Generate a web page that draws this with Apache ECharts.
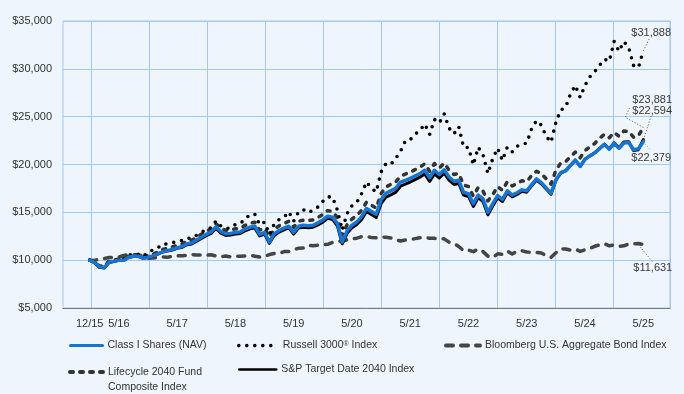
<!DOCTYPE html>
<html><head><meta charset="utf-8">
<script src="https://cdn.jsdelivr.net/npm/echarts@6/dist/echarts.min.js"></script>
<style>html,body{margin:0;padding:0;background:#eef5fc}#c{width:684px;height:394px}</style>
</head><body><div id="c"></div>
<script>
// ---------- DATA ----------
const NAME_CLASS = 'Class I Shares (NAV)';
const NAME_RUSSELL = 'Russell 3000® Index';
const NAME_BOND = 'Bloomberg U.S. Aggregate Bond Index';
const NAME_LIFE = 'Lifecycle 2040 Fund Composite Index';
const NAME_SP = 'S&P Target Date 2040 Index';

// inception point (12/15) followed by month-ends 12/15 ... 5/25
const startDate = '2015-12-01';
const tickLabels = ['12/15','5/16','5/17','5/18','5/19','5/20','5/21','5/22','5/23','5/24','5/25'];

const classI = [10000,9750,9300,9220,9800,9900,10000,9980,10300,10400,10420,10220,10300,10450,
  10650,10880,11000,11120,11300,11420,11700,11800,12100,12400,12700,12950,
  13480,13000,12750,12800,12900,12950,13250,13450,13550,12700,12900,11900,
  12750,13100,13350,13550,12900,13550,13650,13600,13650,13900,14200,14600,
  14500,13850,11900,13050,13650,14000,14550,15400,15100,14800,16300,17000,
  17250,17500,18150,18350,18550,18800,19050,19400,18600,19400,18950,19450,
  18700,18250,18350,17100,16950,15900,16800,16400,15000,15900,16750,16350,
  17250,16800,17050,17350,17250,17900,18500,18100,17550,17000,18400,19150,
  19350,19900,20450,19800,20550,20900,21200,21650,22100,21600,22200,21700,
  22250,22300,21550,21650,22379];

const russell = [10000,9800,9250,9240,9890,9950,10130,10150,10560,10590,10610,10380,10840,11050,
  11270,11680,11700,11820,11940,12050,12280,12300,12600,12880,13260,13390,
  14100,13580,13310,13360,13730,13830,14290,14780,14800,13710,13980,12680,
  13770,14250,14470,15050,14070,15050,15280,14970,15230,15560,16150,16620,
  16600,15240,13140,14870,15680,16040,16950,18170,17520,17130,19220,20090,
  20010,20630,21370,22480,22590,23160,23550,24230,23140,24710,24340,25290,
  23800,23200,23950,21790,21770,19940,21810,21000,19050,20610,21700,20420,
  21830,21330,21910,22130,22220,23730,24580,24110,22950,22330,24410,25700,
  25980,27380,28260,27010,28280,29160,29710,30370,31000,30790,32850,31830,
  32850,32220,30350,30140,31888];

const bond = [10000,9970,10110,10180,10270,10310,10310,10500,10560,10550,10540,10460,10210,10230,
  10250,10320,10310,10390,10470,10450,10490,10590,10530,10530,10520,10560,
  10440,10370,10430,10350,10420,10420,10430,10490,10420,10340,10400,10590,
  10700,10700,10900,10910,11100,11240,11260,11550,11500,11560,11600,11650,
  11850,12000,11950,12150,12230,12300,12450,12450,12380,12330,12420,12400,
  12320,12150,12000,12100,12150,12250,12350,12380,12300,12280,12250,12230,
  11890,11760,11430,10990,11060,10890,11160,10890,10420,10280,10660,10610,
  10940,10650,10920,10980,10860,10820,10820,10750,10470,10300,10770,11190,
  11160,11050,11150,10920,11080,11220,11450,11600,11720,11500,11600,11450,
  11500,11700,11720,11750,11631];

const lifecycle = [10000,9780,9400,9340,9900,10010,10110,10100,10430,10530,10560,10380,10470,10630,
  10860,11110,11230,11370,11560,11690,11970,12080,12390,12700,13010,13270,
  13800,13340,13110,13170,13280,13330,13640,13850,13960,13140,13340,12400,
  13230,13590,13850,14060,13450,14070,14180,14150,14210,14470,14780,15180,
  15080,14450,12600,13700,14300,14660,15230,16060,15750,15440,16950,17650,
  17920,18170,18780,19000,19200,19460,19720,20080,19300,20100,19640,20150,
  19400,18950,19050,17850,17700,16700,17600,17200,16200,16850,17700,17300,
  18200,17750,18000,18300,18200,18850,19300,19050,18500,17950,19400,20150,
  20300,20800,21300,20700,21450,21850,22200,22750,23150,22800,23350,22950,
  23500,23450,22850,23000,23881];

const spTarget = [10000,9740,9250,9180,9760,9870,9980,9960,10290,10380,10400,10190,10270,10420,
  10620,10840,10950,11060,11230,11340,11610,11700,11990,12280,12570,12800,
  13320,12820,12580,12630,12730,12780,13070,13270,13370,12530,12720,11760,
  12580,12930,13170,13370,12720,13360,13450,13400,13450,13690,13980,14370,
  14260,13600,11700,12800,13380,13720,14250,15080,14770,14450,15900,16580,
  16830,17090,17730,17960,18170,18420,18680,19010,18220,19020,18590,19100,
  18360,17910,18020,16800,16660,15620,16530,16120,14740,15650,16520,16130,
  17050,16620,16880,17190,17110,17760,18380,17990,17440,16900,18330,19110,
  19330,19900,20460,19800,20560,20910,21220,21680,22140,21650,22260,21760,
  22350,22370,21450,21550,22594];

// ---------- BUILD ----------
const dates = [startDate];
for (let k = 0; k < classI.length - 1; k++) {
  const y = 2015 + Math.floor((11 + k) / 12);
  const m = (11 + k) % 12 + 1;
  const last = new Date(Date.UTC(y, m, 0)).getUTCDate();
  dates.push(y + '-' + String(m).padStart(2, '0') + '-' + last);
}
const PAD = 5;
const padL = Array.from({length: PAD}, (_, i) => 'padL' + i);
const padR = Array.from({length: PAD}, (_, i) => 'padR' + i);
const cats = padL.concat(dates, padR);
const fmtDate = d => (d.indexOf('-') < 0) ? '' : (+d.slice(5, 7)) + '/' + d.slice(2, 4);
const showIdx = new Set(tickLabels.map(t => cats.findIndex(c => fmtDate(c) === t)));

const FONT = 'Arial, "Liberation Sans", sans-serif';
const GRID_COLOR = '#a6c7f0';
const BLUE = '#1774d1';

const pairs = vals => dates.map((d, k) => [d, vals[k]]);

const seriesDefs = [
  {name: NAME_BOND, vals: bond, color: '#454545', width: 3.5, type: [7, 8], z: 2},
  {name: NAME_LIFE, vals: lifecycle, color: '#333333', width: 3.5, type: [3, 7], z: 3},
  {name: NAME_RUSSELL, vals: russell, color: '#000000', width: 3.6, type: [0, 8], z: 4},
  {name: NAME_SP, vals: spTarget, color: '#000000', width: 3, type: 'solid', z: 5},
  {name: NAME_CLASS, vals: classI, color: BLUE, width: 3.5, type: 'solid', z: 6}
];

const series = seriesDefs.map(s => ({
  name: s.name, type: 'line', data: pairs(s.vals), symbol: 'none', showSymbol: false,
  silent: true, z: s.z, color: s.color,
  lineStyle: {color: s.color, width: s.width, type: s.type, cap: 'round', join: 'round'},
  itemStyle: {color: s.color},
  emphasis: {disabled: true}
}));

const legendBase = {
  orient: 'horizontal', padding: 0, itemHeight: 14, selectedMode: false,
  itemStyle: {opacity: 0},
  textStyle: {color: '#333', fontSize: 10.5, fontFamily: FONT,
    rich: {sup: {fontSize: 7, color: '#333', fontFamily: FONT, verticalAlign: 'top'}}}
};

const option = {
  animation: false,
  backgroundColor: '#eef5fc',
  textStyle: {fontFamily: FONT},
  grid: [
    {left: 63, right: 14, top: 21, bottom: 86, show: true, borderColor: GRID_COLOR, borderWidth: 1, backgroundColor: 'transparent'},
    {left: 91, right: 14, top: 21, bottom: 86}
  ],
  xAxis: [
    {type: 'category', gridIndex: 0, data: cats, boundaryGap: true,
      axisLine: {show: true, lineStyle: {color: '#7a7a7a', width: 1}},
      axisTick: {show: false}, splitLine: {show: false},
      axisLabel: {interval: i => showIdx.has(i), formatter: fmtDate, color: '#333', fontSize: 11, margin: 10, fontFamily: FONT}},
    {type: 'value', gridIndex: 1, min: 0, max: 119.8, interval: 12,
      axisLine: {show: false}, axisTick: {show: false}, axisLabel: {show: false},
      splitLine: {show: true, lineStyle: {color: GRID_COLOR, width: 1}}}
  ],
  yAxis: [
    {type: 'value', gridIndex: 0, min: 5000, max: 35000, interval: 5000,
      axisLine: {show: false}, axisTick: {show: false},
      axisLabel: {formatter: v => '$' + v.toLocaleString('en-US'), color: '#333', fontSize: 11, margin: 11, fontFamily: FONT},
      splitLine: {show: true, lineStyle: {color: GRID_COLOR, width: 1}}},
    {type: 'value', gridIndex: 1, min: 0, max: 1, show: false}
  ],
  legend: [
    Object.assign({}, legendBase, {data: [NAME_CLASS], left: 69, top: 340, itemWidth: 32, lineStyle: {width: 3}}),
    Object.assign({}, legendBase, {data: [NAME_RUSSELL], left: 237, top: 340, itemWidth: 39, lineStyle: {width: 3.6}}),
    Object.assign({}, legendBase, {data: [NAME_BOND], left: 444, top: 340, itemWidth: 34, lineStyle: {width: 4}}),
    Object.assign({}, legendBase, {data: [NAME_LIFE], left: 68, top: 349.5, itemWidth: 33, lineStyle: {width: 4},
      formatter: () => 'Lifecycle 2040 Fund\nComposite Index',
      textStyle: Object.assign({}, legendBase.textStyle, {lineHeight: 15, padding: [15, 0, 0, 0]})}),
    Object.assign({}, legendBase, {data: [NAME_SP], left: 238, top: 364, itemWidth: 37, lineStyle: {width: 2.5}})
  ],
  series: series
};
option.legend[1].formatter = n => n.replace('®', '{sup|®}');

const chart = echarts.init(document.getElementById('c'), null, {renderer: 'canvas'});
chart.setOption(option);

// end-value annotations with dotted leader lines
const endLabels = [
  {name: NAME_RUSSELL, dx: -12, dy: -17.5, line: [[0, 0], [6, -12]], stroke: '#555'},
  {name: NAME_LIFE, dx: -11, dy: -27, line: [[0, 0], [-18, -10], [-13, -21]], stroke: '#555'},
  {name: NAME_SP, dx: -11, dy: -29, line: [[0, 0], [8, -24]], stroke: '#555'},
  {name: NAME_CLASS, dx: -12, dy: 16, line: [[0, 0], [7, 8]], stroke: '#5aa0e6'},
  {name: NAME_BOND, dx: -10, dy: 23, line: [[-5, 0], [9, 17]], stroke: '#555'}
];
const graphics = [];
endLabels.forEach(cfg => {
  const si = seriesDefs.findIndex(s => s.name === cfg.name);
  const vals = seriesDefs[si].vals;
  const last = vals.length - 1;
  const p = chart.convertToPixel({seriesIndex: si}, [PAD + last, vals[last]]);
  graphics.push({type: 'polyline', silent: true, z: 20,
    shape: {points: cfg.line.map(([a, b]) => [p[0] + a, p[1] + b])},
    style: {stroke: cfg.stroke, lineWidth: 1, lineDash: [1, 2], fill: null}});
  graphics.push({type: 'text', silent: true, z: 21, x: p[0] + cfg.dx, y: p[1] + cfg.dy,
    style: {text: '$' + vals[last].toLocaleString('en-US'), fill: '#3a3a3a', fontSize: 11, fontFamily: FONT,
      align: 'left', verticalAlign: 'middle'}});
});
chart.setOption({graphic: graphics});
</script>
</body></html>
